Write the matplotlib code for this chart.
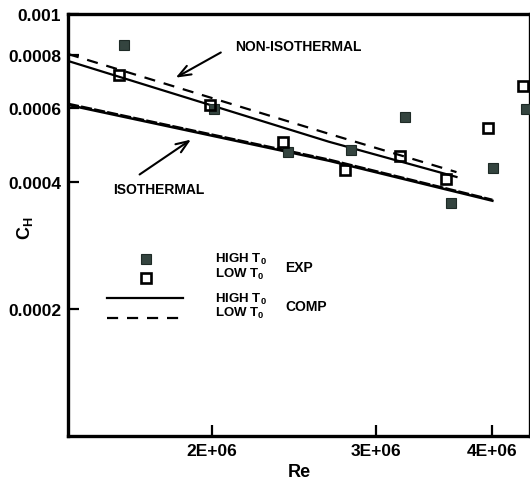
import matplotlib
matplotlib.use("Agg")
import matplotlib.pyplot as plt
from matplotlib.ticker import FixedLocator, NullLocator, FixedFormatter

plt.rcParams['font.family'] = ['Liberation Sans', 'DejaVu Sans']
plt.rcParams['font.weight'] = 'bold'
plt.rcParams['mathtext.fontset'] = 'custom'
plt.rcParams['mathtext.rm'] = 'Liberation Sans:bold'
plt.rcParams['mathtext.bf'] = 'Liberation Sans:bold'
plt.rcParams['mathtext.it'] = 'Liberation Sans:bold'

# Experimental data
re_high_exp = [1.61e6, 2.01e6, 2.41e6, 2.82e6, 3.22e6, 3.61e6, 4.01e6, 4.35e6]
ch_high_exp = [8.44e-4, 5.96e-4, 4.71e-4, 4.77e-4, 5.70e-4, 3.56e-4, 4.32e-4, 5.96e-4]
re_low_exp = [1.59e6, 1.99e6, 2.38e6, 2.78e6, 3.18e6, 3.57e6, 3.96e6, 4.31e6]
ch_low_exp = [7.17e-4, 6.09e-4, 4.98e-4, 4.27e-4, 4.61e-4, 4.06e-4, 5.37e-4, 6.75e-4]

# Computations
re_noniso = [1.40e6, 2.67e6, 3.66e6]
ch_noniso_high = [7.74e-4, 4.98e-4, 4.11e-4]
ch_noniso_low = [8.04e-4, 5.20e-4, 4.22e-4]
re_iso = [1.40e6, 2.67e6, 4.00e6]
ch_iso_high = [6.09e-4, 4.49e-4, 3.61e-4]
ch_iso_low = [6.13e-4, 4.52e-4, 3.63e-4]

xticks = [2e6, 3e6, 4e6]
xticklabels = ['2E+06', '3E+06', '4E+06']
yticks = [2e-4, 4e-4, 6e-4, 8e-4, 1e-3]
yticklabels = ['0.0002', '0.0004', '0.0006', '0.0008', '0.001']

fig = plt.figure(figsize=(5.30, 4.81), dpi=100)
ax = fig.add_axes([68/530, 44/481, 462/530, 422/481])
ax.set_xscale('log')
ax.set_yscale('log')
ax.set_xlim(1.40e6, 4.39e6)
ax.set_ylim(1e-4, 1e-3)

sq_col = '#34443f'
ax.plot(re_noniso, ch_noniso_high, color='black', lw=1.6)
ax.plot(re_noniso, ch_noniso_low, color='black', lw=1.6, ls=(0, (5, 4)))
ax.plot(re_iso, ch_iso_high, color='black', lw=1.8)
ax.plot(re_iso, ch_iso_low, color='black', lw=1.6, ls=(0, (5, 1)))
ax.plot(re_high_exp, ch_high_exp, ls='none', marker='s', ms=7.5,
        mfc=sq_col, mec='#1e2a26', mew=0.8, clip_on=False, zorder=5)
ax.plot(re_low_exp, ch_low_exp, ls='none', marker='s', ms=7.8,
        mfc='none', mec='black', mew=1.9, clip_on=False, zorder=5)

ax.xaxis.set_major_locator(FixedLocator(xticks))
ax.xaxis.set_major_formatter(FixedFormatter(xticklabels))
ax.xaxis.set_minor_locator(NullLocator())
ax.yaxis.set_major_locator(FixedLocator(yticks))
ax.yaxis.set_major_formatter(FixedFormatter(yticklabels))
ax.yaxis.set_minor_locator(NullLocator())
ax.tick_params(direction='in', length=8, width=1.6, labelsize=12.5, pad=5)
for lab in ax.get_xticklabels() + ax.get_yticklabels():
    lab.set_fontweight('bold')
for sp in ax.spines.values():
    sp.set_linewidth(2.4)

ax.set_xlabel('Re', fontsize=13, fontweight='bold', labelpad=4)
fig.text(25/530, 1 - 228/481, 'C$_H$', rotation=90, fontsize=13, fontweight='bold',
         ha='center', va='center')

# Annotations
ax.text(0.362, 0.924, 'NON-ISOTHERMAL', transform=ax.transAxes, fontsize=10,
        fontweight='bold', va='center', ha='left')
ax.annotate('', xy=(0.228, 0.846), xytext=(0.336, 0.912),
            xycoords='axes fraction', textcoords='axes fraction',
            arrowprops=dict(arrowstyle='->,head_length=0.9,head_width=0.35', lw=1.5, color='black'))
ax.text(0.098, 0.585, 'ISOTHERMAL', transform=ax.transAxes, fontsize=10,
        fontweight='bold', va='center', ha='left')
ax.annotate('', xy=(0.271, 0.706), xytext=(0.150, 0.616),
            xycoords='axes fraction', textcoords='axes fraction',
            arrowprops=dict(arrowstyle='->,head_length=0.9,head_width=0.35', lw=1.5, color='black'))

# Legend (manual)
ax.plot([0.169], [0.419], transform=ax.transAxes, marker='s', ms=7.5,
        mfc=sq_col, mec='#1e2a26', mew=0.8, ls='none')
ax.plot([0.169], [0.374], transform=ax.transAxes, marker='s', ms=7.8,
        mfc='none', mec='black', mew=1.9, ls='none')
ax.plot([0.085, 0.249], [0.327, 0.327], transform=ax.transAxes, color='black', lw=1.6)
ax.plot([0.085, 0.249], [0.280, 0.280], transform=ax.transAxes, color='black', lw=1.6,
        ls=(0, (5, 4)))
for y, s in [(0.421, 'HIGH T$_0$'), (0.386, 'LOW T$_0$'),
             (0.327, 'HIGH T$_0$'), (0.292, 'LOW T$_0$')]:
    ax.text(0.319, y, s, transform=ax.transAxes, fontsize=9.5, fontweight='bold',
            va='center', ha='left')
ax.text(0.471, 0.400, 'EXP', transform=ax.transAxes, fontsize=10, fontweight='bold',
        va='center', ha='left')
ax.text(0.471, 0.308, 'COMP', transform=ax.transAxes, fontsize=10, fontweight='bold',
        va='center', ha='left')

fig.savefig('out.png', dpi=100)
